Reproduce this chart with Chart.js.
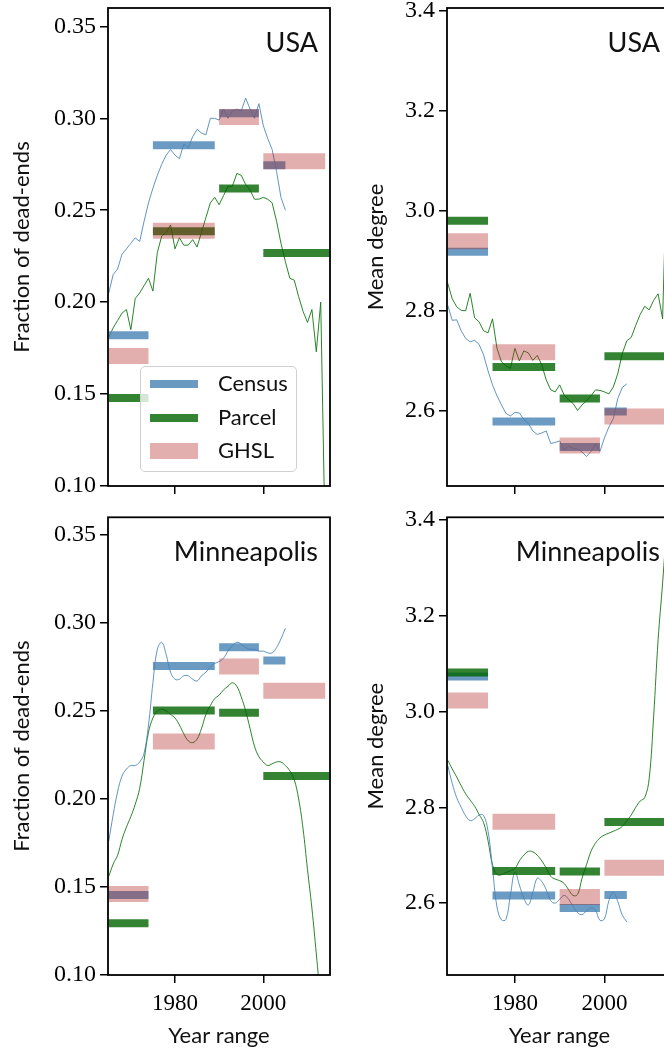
<!DOCTYPE html>
<html>
<head>
<meta charset="utf-8">
<script src="https://cdn.jsdelivr.net/npm/chart.js@4.4.1/dist/chart.umd.min.js"></script>
<style>
  html, body { margin: 0; padding: 0; background: #fff; }
  body { width: 664px; height: 1051px; overflow: hidden; position: relative; }
  canvas { position: absolute; }
  #legend { position: absolute; left: 140px; top: 366px; width: 155px; height: 104px;
    border: 1.6px solid #d0d0d0; border-radius: 5px; background: rgba(255,255,255,0.8); }
  .sw { position: absolute; left: 9px; width: 48px; }
  .lt { position: absolute; left: 77px; font: 22px Lato, sans-serif; color: #111; line-height: 22px; }
</style>
</head>
<body>
<canvas id="tl" width="340" height="500" style="left:0;top:0"></canvas>
<canvas id="tr" width="346" height="500" style="left:339px;top:0"></canvas>
<canvas id="bl" width="340" height="551" style="left:0;top:500px"></canvas>
<canvas id="br" width="346" height="551" style="left:339px;top:500px"></canvas>
<div id="legend"></div>
<script>
// ---------- data ----------
const YEARS_CENSUS = [1965,1966,1967,1968,1969,1970,1971,1972,1973,1974,1975,1976,1977,1978,1979,1980,1981,1982,1983,1984,1985,1986,1987,1988,1989,1990,1991,1992,1993,1994,1995,1996,1997,1998,1999,2000,2001,2002,2003,2004,2005];
const YEARS_PARCEL = [1965,1966,1967,1968,1969,1970,1971,1972,1973,1974,1975,1976,1977,1978,1979,1980,1981,1982,1983,1984,1985,1986,1987,1988,1989,1990,1991,1992,1993,1994,1995,1996,1997,1998,1999,2000,2001,2002,2003,2004,2005,2006,2007,2008,2009,2010,2011,2012,2013,2014];

const USA_DE_CENSUS = [0.205,0.215,0.218,0.226,0.229,0.232,0.235,0.233,0.244,0.254,0.262,0.269,0.275,0.280,0.283,0.280,0.278,0.286,0.284,0.290,0.294,0.292,0.291,0.300,0.300,0.299,0.305,0.300,0.304,0.305,0.304,0.311,0.305,0.300,0.308,0.296,0.289,0.283,0.271,0.257,0.250];
const USA_DE_PARCEL = [0.181,0.186,0.190,0.194,0.196,0.185,0.202,0.205,0.209,0.213,0.206,0.227,0.236,0.238,0.242,0.229,0.235,0.231,0.231,0.234,0.230,0.238,0.246,0.254,0.257,0.253,0.258,0.263,0.263,0.270,0.269,0.264,0.261,0.256,0.256,0.257,0.256,0.254,0.244,0.232,0.222,0.213,0.212,0.203,0.195,0.189,0.196,0.173,0.200,0.070];
const USA_MD_CENSUS = [2.811,2.781,2.782,2.760,2.745,2.738,2.741,2.733,2.712,2.680,2.652,2.630,2.612,2.595,2.590,2.597,2.596,2.583,2.575,2.560,2.553,2.556,2.560,2.535,2.537,2.540,2.522,2.530,2.525,2.524,2.518,2.509,2.519,2.534,2.519,2.546,2.568,2.585,2.625,2.647,2.654];
const USA_MD_PARCEL = [2.855,2.824,2.808,2.801,2.800,2.835,2.786,2.778,2.760,2.756,2.784,2.725,2.698,2.690,2.685,2.725,2.700,2.720,2.716,2.701,2.711,2.692,2.662,2.642,2.638,2.652,2.632,2.622,2.615,2.601,2.612,2.620,2.630,2.642,2.641,2.638,2.634,2.648,2.675,2.715,2.740,2.747,2.771,2.793,2.809,2.802,2.821,2.834,2.784,3.100];
const MPLS_DE_CENSUS = [0.176,0.191,0.204,0.213,0.217,0.219,0.219,0.221,0.226,0.242,0.266,0.285,0.289,0.282,0.272,0.268,0.268,0.270,0.270,0.268,0.267,0.270,0.272,0.275,0.277,0.278,0.280,0.284,0.287,0.289,0.288,0.286,0.285,0.285,0.284,0.284,0.283,0.283,0.286,0.291,0.297];
const MPLS_DE_PARCEL = [0.156,0.163,0.168,0.177,0.184,0.190,0.197,0.206,0.222,0.238,0.246,0.250,0.251,0.250,0.248,0.246,0.242,0.237,0.233,0.232,0.234,0.240,0.248,0.253,0.257,0.259,0.262,0.264,0.266,0.264,0.258,0.250,0.240,0.230,0.224,0.221,0.219,0.220,0.221,0.221,0.219,0.216,0.211,0.200,0.183,0.160,0.138,0.112,0.085,0.060];
const MPLS_MD_CENSUS = [2.887,2.850,2.820,2.800,2.782,2.772,2.776,2.784,2.783,2.750,2.672,2.592,2.565,2.566,2.617,2.665,2.638,2.610,2.596,2.622,2.652,2.645,2.628,2.605,2.600,2.608,2.616,2.608,2.593,2.580,2.576,2.584,2.590,2.585,2.564,2.567,2.605,2.622,2.603,2.575,2.561];
const MPLS_MD_PARCEL = [2.898,2.880,2.863,2.845,2.828,2.815,2.802,2.785,2.768,2.730,2.680,2.660,2.659,2.664,2.667,2.672,2.688,2.700,2.708,2.707,2.700,2.688,2.673,2.656,2.650,2.647,2.641,2.628,2.616,2.618,2.652,2.680,2.708,2.725,2.736,2.742,2.746,2.750,2.754,2.760,2.772,2.784,2.800,2.813,2.820,2.860,2.990,3.150,3.268,3.400];

// year-range bins
const BIN_START = [1965, 1975, 1990, 2000];
const CENSUS_END = [1974, 1989, 1999, 2005];
const PARCEL_END = [1974, 1989, 1999, 2015];
const GHSL_END   = [1974, 1989, 1999, 2014];

const USA_DE_BAR_CENSUS = [0.182, 0.2853, 0.3028, 0.2745];
const USA_DE_BAR_PARCEL = [0.1478, 0.2386, 0.2618, 0.2268];
const USA_DE_BAR_GHSL   = [0.1707, 0.2388, 0.3007, 0.2766];
const USA_MD_BAR_CENSUS = [2.918, 2.579, 2.528, 2.599];
const USA_MD_BAR_PARCEL = [2.980, 2.688, 2.625, 2.709];
const USA_MD_BAR_GHSL   = [2.939, 2.717, 2.531, 2.589];
const MPLS_DE_BAR_CENSUS = [0.1455, 0.2756, 0.2862, 0.2786];
const MPLS_DE_BAR_PARCEL = [0.1294, 0.2502, 0.2490, 0.2131];
const MPLS_DE_BAR_GHSL   = [0.1460, 0.2326, 0.2752, 0.2614];
const MPLS_MD_BAR_CENSUS = [3.073, 2.616, 2.590, 2.617];
const MPLS_MD_BAR_PARCEL = [3.081, 2.667, 2.666, 2.769];
const MPLS_MD_BAR_GHSL   = [3.023, 2.770, 2.613, 2.674];

const SERIES = ['Census', 'Parcel', 'GHSL'];
const X_TICKS = [1980, 2000];
const DE_TICKS = [0.10, 0.15, 0.20, 0.25, 0.30, 0.35];
const MD_TICKS = [2.6, 2.8, 3.0, 3.2, 3.4];

// ---------- styles ----------
const COL = {
  Census: 'rgba(70,130,180,0.8)',
  Parcel: 'rgba(0,100,0,0.8)',
  GHSL:   'rgba(178,34,34,0.37)'
};
const BAR_W = { Census: 8, Parcel: 8, GHSL: 16 };
const LINE_COL = { Census: 'rgba(70,130,180,0.85)', Parcel: 'rgba(20,120,20,0.9)' };

function pts(years, vals) { return years.map((y, i) => ({ x: y, y: vals[i] })); }
function barPts(ends, vals) {
  const out = [];
  BIN_START.forEach((s, i) => { out.push({ x: s, y: vals[i] }, { x: ends[i], y: vals[i] }, { x: ends[i], y: null }); });
  return out;
}
function barSet(name, ends, vals, order) {
  return { label: name, data: barPts(ends, vals), borderColor: COL[name], backgroundColor: COL[name],
    borderWidth: BAR_W[name], borderCapStyle: 'butt', pointRadius: 0, spanGaps: false, tension: 0, order: order };
}
function lineSet(name, years, vals, tension) {
  return { label: name + ' line', data: pts(years, vals), borderColor: LINE_COL[name], borderWidth: 1,
    pointRadius: 0, tension: tension, order: 10 };
}

const framePlugin = {
  id: 'frame',
  afterDraw(chart) {
    const a = chart.chartArea, c = chart.ctx;
    c.save(); c.strokeStyle = '#000'; c.lineWidth = 1.8;
    c.strokeRect(a.left, a.top, a.right - a.left, a.bottom - a.top);
    c.restore();
  }
};
function labelPlugin(text) {
  return {
    id: 'panelLabel',
    afterDraw(chart) {
      const a = chart.chartArea, c = chart.ctx;
      c.save(); c.fillStyle = '#111'; c.font = '27px Lato, sans-serif';
      c.textAlign = 'right'; c.textBaseline = 'alphabetic';
      c.fillText(text, a.right - 12, a.top + 43.5);
      c.restore();
    }
  };
}

function makeChart(id, opts) {
  const ctx = document.getElementById(id);
  return new Chart(ctx, {
    type: 'line',
    data: { datasets: opts.datasets },
    options: {
      responsive: false, animation: false, devicePixelRatio: 1,
      events: [],
      layout: { padding: { top: opts.padTop, right: opts.padRight, left: 0, bottom: 0 } },
      plugins: { legend: { display: false }, tooltip: { enabled: false } },
      scales: {
        x: {
          type: 'linear', min: 1964.83, max: 2015.1,
          afterBuildTicks: s => { s.ticks = X_TICKS.map(v => ({ value: v })); },
          afterFit: s => { s.height = opts.xHeight; s.paddingLeft = 0; s.paddingRight = 0; s.paddingTop = 0; s.paddingBottom = 0; },
          border: { display: false },
          grid: { display: true, drawOnChartArea: false, drawTicks: true, tickLength: 8, color: '#000', lineWidth: 1.5 },
          ticks: { display: opts.showX, color: '#000', padding: 7, maxRotation: 0,
            font: { family: 'Liberation Serif', size: 23 }, callback: v => String(v) },
          title: { display: opts.showX, text: 'Year range', color: '#111',
            font: { family: 'Lato', size: 22 }, padding: { top: 0, bottom: 2 } }
        },
        y: {
          type: 'linear', min: opts.ymin, max: opts.ymax,
          afterBuildTicks: s => { s.ticks = opts.yTicks.map(v => ({ value: v })); },
          afterFit: s => { s.width = 108; s.paddingTop = 0; s.paddingBottom = 0; s.paddingLeft = 0; s.paddingRight = 0; },
          border: { display: false },
          grid: { display: true, drawOnChartArea: false, drawTicks: true, tickLength: 8, color: '#000', lineWidth: 1.5 },
          ticks: { color: '#000', padding: 4, font: { family: 'Liberation Serif', size: 24 },
            callback: v => v.toFixed(opts.dec) },
          title: { display: true, text: opts.yTitle, color: '#111',
            font: { family: 'Lato', size: 22 }, padding: { top: opts.yTitlePad, bottom: 0 } }
        }
      }
    },
    plugins: [framePlugin, labelPlugin(opts.label)]
  });
}

makeChart('tl', {
  label: 'USA', yTitle: 'Fraction of dead-ends', ymin: 0.10, ymax: 0.36, yTicks: DE_TICKS, dec: 2,
  padTop: 8, padRight: 10, xHeight: 14, showX: false, yTitlePad: 8.8,
  datasets: [
    barSet('GHSL', GHSL_END, USA_DE_BAR_GHSL, 1),
    barSet('Parcel', PARCEL_END, USA_DE_BAR_PARCEL, 2),
    barSet('Census', CENSUS_END, USA_DE_BAR_CENSUS, 3),
    lineSet('Census', YEARS_CENSUS, USA_DE_CENSUS, 0),
    lineSet('Parcel', YEARS_PARCEL, USA_DE_PARCEL, 0)
  ]
});
makeChart('tr', {
  label: 'USA', yTitle: 'Mean degree', ymin: 2.45, ymax: 3.405, yTicks: MD_TICKS, dec: 1,
  padTop: 8, padRight: 13, xHeight: 14, showX: false, yTitlePad: 23.8,
  datasets: [
    barSet('GHSL', GHSL_END, USA_MD_BAR_GHSL, 1),
    barSet('Parcel', PARCEL_END, USA_MD_BAR_PARCEL, 2),
    barSet('Census', CENSUS_END, USA_MD_BAR_CENSUS, 3),
    lineSet('Census', YEARS_CENSUS, USA_MD_CENSUS, 0),
    lineSet('Parcel', YEARS_PARCEL, USA_MD_PARCEL, 0)
  ]
});
makeChart('bl', {
  label: 'Minneapolis', yTitle: 'Fraction of dead-ends', ymin: 0.10, ymax: 0.36, yTicks: DE_TICKS, dec: 2,
  padTop: 17.3, padRight: 10, xHeight: 76, showX: true, yTitlePad: 8.8,
  datasets: [
    barSet('GHSL', GHSL_END, MPLS_DE_BAR_GHSL, 1),
    barSet('Parcel', PARCEL_END, MPLS_DE_BAR_PARCEL, 2),
    barSet('Census', CENSUS_END, MPLS_DE_BAR_CENSUS, 3),
    lineSet('Census', YEARS_CENSUS, MPLS_DE_CENSUS, 0.4),
    lineSet('Parcel', YEARS_PARCEL, MPLS_DE_PARCEL, 0.4)
  ]
});
makeChart('br', {
  label: 'Minneapolis', yTitle: 'Mean degree', ymin: 2.45, ymax: 3.405, yTicks: MD_TICKS, dec: 1,
  padTop: 17.3, padRight: 13, xHeight: 76, showX: true, yTitlePad: 23.8,
  datasets: [
    barSet('GHSL', GHSL_END, MPLS_MD_BAR_GHSL, 1),
    barSet('Parcel', PARCEL_END, MPLS_MD_BAR_PARCEL, 2),
    barSet('Census', CENSUS_END, MPLS_MD_BAR_CENSUS, 3),
    lineSet('Census', YEARS_CENSUS, MPLS_MD_CENSUS, 0.4),
    lineSet('Parcel', YEARS_PARCEL, MPLS_MD_PARCEL, 0.4)
  ]
});

// legend (inside the top-left panel)
const leg = document.getElementById('legend');
const ROW_Y = [17, 51, 84];
SERIES.forEach((name, i) => {
  const sw = document.createElement('div');
  sw.className = 'sw';
  sw.style.top = (ROW_Y[i] - BAR_W[name] / 2) + 'px';
  sw.style.height = BAR_W[name] + 'px';
  sw.style.background = COL[name];
  leg.appendChild(sw);
  const t = document.createElement('div');
  t.className = 'lt';
  t.style.top = (ROW_Y[i] - 12) + 'px';
  t.textContent = name;
  leg.appendChild(t);
});
</script>
</body>
</html>
